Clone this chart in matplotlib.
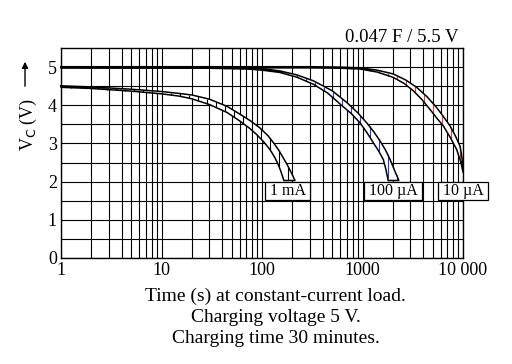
import numpy as np
import matplotlib
matplotlib.use("Agg")
import matplotlib.pyplot as plt
from matplotlib.ticker import FixedLocator, NullFormatter, LogLocator

plt.rcParams['font.family'] = ['Liberation Serif', 'DejaVu Serif']

# ==============================
# DATA
# ==============================
t_1ma_hi = [1, 2, 5, 10, 15, 20, 30, 45, 60, 76, 95, 115, 130, 147, 163, 180, 197, 213]
v_1ma_hi = [4.51, 4.48, 4.42, 4.36, 4.31, 4.27, 4.16, 3.97, 3.77, 3.60, 3.41, 3.20,
            3.02, 2.82, 2.62, 2.42, 2.22, 2.03]
t_1ma_lo = [1, 2, 5, 10, 15, 20, 30, 45, 60, 75, 88, 105, 120, 133, 145, 155, 165]
v_1ma_lo = [4.47, 4.44, 4.37, 4.30, 4.24, 4.17, 4.02, 3.81, 3.59, 3.40, 3.24, 3.03,
            2.84, 2.65, 2.45, 2.25, 2.03]

t_100_hi = [1, 30, 70, 100, 150, 220, 325, 500, 700, 900, 1100, 1300, 1500, 1700,
            1880, 2080, 2300]
v_100_hi = [5.00, 5.00, 4.98, 4.96, 4.90, 4.80, 4.64, 4.38, 4.07, 3.80, 3.54, 3.30,
            3.06, 2.82, 2.58, 2.30, 2.03]
t_100_lo = [1, 30, 70, 100, 150, 220, 325, 450, 600, 775, 945, 1110, 1280, 1450,
            1610, 1710, 1800]
v_100_lo = [4.98, 4.97, 4.95, 4.92, 4.86, 4.74, 4.55, 4.32, 4.03, 3.78, 3.54, 3.28,
            3.02, 2.80, 2.58, 2.32, 2.03]

t_10_hi = [1, 300, 600, 945, 1400, 2025, 2700, 3460, 4400, 5470, 6400, 7430, 8400,
           9340, 9800, 10000]
v_10_hi = [5.01, 5.01, 5.00, 4.98, 4.92, 4.82, 4.66, 4.47, 4.22, 3.94, 3.70, 3.46,
           3.20, 2.93, 2.60, 2.25]
t_10_lo = [1, 300, 600, 945, 1400, 2025, 2600, 3200, 3900, 4700, 5500, 6370, 7500,
           8650, 9500, 10000]
v_10_lo = [4.98, 4.98, 4.97, 4.95, 4.87, 4.73, 4.57, 4.38, 4.15, 3.89, 3.66, 3.46,
           3.15, 2.84, 2.52, 2.25]

labels = [" 1 mA ", " 100 µA ", " 10 µA "]
label_t = [178, 2000, 10000]
label_v = 1.76
hatch_colors = ["black", "#2a36c8", "#d84040"]

x_ticks = [1, 10, 100, 1000, 10000]
x_ticklabels = ["1", "10", "100", "1000", "10 000"]
y_ticks = [0, 1, 2, 3, 4, 5]

# ==============================
# PLOT
# ==============================
fig = plt.figure(figsize=(5.12, 3.64), dpi=100)
ax = fig.add_axes([61 / 512, 1 - 258 / 364, 402 / 512, 210 / 364])

ax.set_xscale("log")
ax.set_xlim(1, 10000)
ax.set_ylim(0, 5.5)

ax.xaxis.set_major_locator(FixedLocator(x_ticks))
ax.set_xticklabels(x_ticklabels)
ax.xaxis.set_minor_locator(LogLocator(base=10, subs=np.arange(2, 10)))
ax.xaxis.set_minor_formatter(NullFormatter())
ax.yaxis.set_major_locator(FixedLocator(y_ticks))
ax.yaxis.set_minor_locator(FixedLocator(np.arange(0.5, 5.5, 1.0)))
ax.tick_params(which="both", length=0, labelsize=13, pad=3)

ax.grid(True, which="both", color="black", linewidth=0.8)
ax.set_axisbelow(True)
for s in ax.spines.values():
    s.set_linewidth(1.0)

bands = [
    (t_1ma_hi, v_1ma_hi, t_1ma_lo, v_1ma_lo),
    (t_100_hi, v_100_hi, t_100_lo, v_100_lo),
    (t_10_hi, v_10_hi, t_10_lo, v_10_lo),
]

# short vertical hatch strokes inside each band (~0.09 decade apart)
for (th, vh, tl, vl), col in zip(bands, hatch_colors):
    px = list(th) + list(tl)[::-1]
    py = list(vh) + list(vl)[::-1]
    ax.fill(px, py, facecolor="white", edgecolor="none", zorder=3, clip_on=False)

    ht = 10 ** np.arange(0.1, np.log10(th[-1]), 0.09)
    top = np.interp(np.log10(ht), np.log10(th), vh)
    bot = np.interp(np.log10(ht), np.log10(tl), vl)
    ax.vlines(ht, bot, top, colors=col, linewidth=0.8, zorder=3.5)

    ax.plot(px + [px[0]], py + [py[0]], color="black", linewidth=1.1,
            zorder=4, clip_on=False, solid_joinstyle="round")

for lab, lt in zip(labels, label_t):
    ax.text(lt, label_v, lab, ha="center", va="center", fontsize=11.5, zorder=5,
            bbox=dict(boxstyle="square,pad=0.06", facecolor="white",
                      edgecolor="black", linewidth=0.9))

ax.text(0.99, 1.03, "0.047 F / 5.5 V", transform=ax.transAxes,
        ha="right", va="baseline", fontsize=13.5)

fig.text(275.5 / 512, 1 - 288 / 364,
         "Time (s) at constant-current load.\nCharging voltage 5 V.\n"
         "Charging time 30 minutes.", fontsize=14, linespacing=1.3,
         ha="center", va="top", multialignment="center")

fig.text(28 / 512, 1 - 124 / 364, "V$_\\mathrm{C}$ (V)", rotation=90,
         ha="center", va="center", fontsize=13)
ax.annotate("", xy=(25 / 512, 1 - 59 / 364), xytext=(25 / 512, 1 - 89 / 364),
            xycoords="figure fraction", textcoords="figure fraction",
            arrowprops=dict(arrowstyle="-|>", color="black", lw=1.0,
                            mutation_scale=9))

fig.savefig("out.png", dpi=100)
